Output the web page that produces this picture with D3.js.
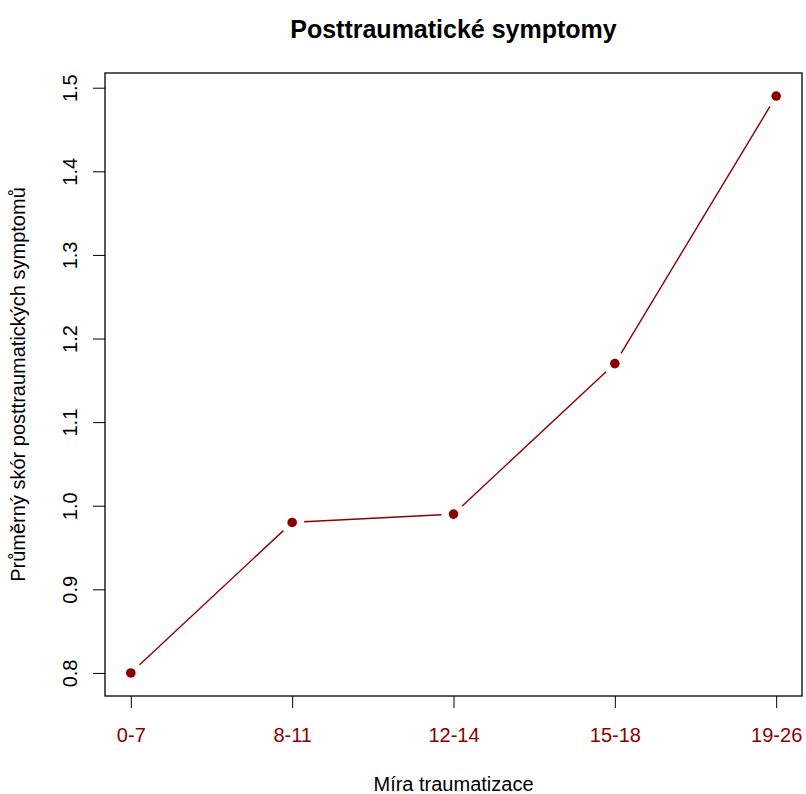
<!DOCTYPE html>
<html>
<head>
<meta charset="utf-8">
<script src="https://cdn.jsdelivr.net/npm/d3@7"></script>
<style>
  html, body { margin: 0; padding: 0; background: #fff; }
  svg { display: block; }
  svg text { font-family: "Liberation Sans", Arial, sans-serif; }
</style>
</head>
<body>
<svg id="chart" width="806" height="794"></svg>
<script>
// Mean posttraumatic symptom score by trauma level
const categories = ["0-7", "8-11", "12-14", "15-18", "19-26"];
const scores = [0.80, 0.98, 0.99, 1.17, 1.49];
const yTicks = [0.8, 0.9, 1.0, 1.1, 1.2, 1.3, 1.4, 1.5];

const plot = { left: 105, right: 802, top: 73, bottom: 696 };
const red = "#8B0000";
const font = "Liberation Sans, Arial, sans-serif";

const svg = d3.select("#chart");

// Domains padded by 4% each side, as in base R graphics
const n = categories.length;
const xPad = (n - 1) * 0.04;
const x = d3.scaleLinear().domain([1 - xPad, n + xPad]).range([plot.left, plot.right]);
const yMin = d3.min(scores), yMax = d3.max(scores);
const yPad = (yMax - yMin) * 0.04;
const y = d3.scaleLinear().domain([yMin - yPad, yMax + yPad]).range([plot.bottom, plot.top]);

const data = scores.map((v, i) => ({ i: i + 1, cat: categories[i], v }));

// Line segments with gaps around each point (type "b")
const gap = 12;
const segs = d3.pairs(data).map(([a, b]) => {
  const x1 = x(a.i), y1 = y(a.v), x2 = x(b.i), y2 = y(b.v);
  const len = Math.hypot(x2 - x1, y2 - y1);
  const ux = (x2 - x1) / len, uy = (y2 - y1) / len;
  return { x1: x1 + ux * gap, y1: y1 + uy * gap, x2: x2 - ux * gap, y2: y2 - uy * gap };
});

svg.append("g").selectAll("line").data(segs).join("line")
  .attr("x1", d => d.x1).attr("y1", d => d.y1)
  .attr("x2", d => d.x2).attr("y2", d => d.y2)
  .attr("stroke", red).attr("stroke-width", 1.4);

svg.append("g").selectAll("circle").data(data).join("circle")
  .attr("cx", d => x(d.i)).attr("cy", d => y(d.v))
  .attr("r", 4.8).attr("fill", red);

// Y axis
const yAxis = svg.append("g")
  .attr("transform", `translate(${plot.left},0)`)
  .call(d3.axisLeft(y).tickValues(yTicks).tickSize(12).tickFormat(d3.format(".1f")))
  .attr("font-family", font).attr("font-size", 20);
yAxis.select(".domain").remove();
yAxis.selectAll(".tick line").attr("stroke", "#000").attr("stroke-width", 1);
yAxis.selectAll(".tick text")
  .attr("x", null).attr("dy", null)
  .attr("transform", "translate(-28,0) rotate(-90)")
  .attr("text-anchor", "middle")
  .attr("fill", "#000");

// X axis
const xAxis = svg.append("g")
  .attr("transform", `translate(0,${plot.bottom})`)
  .call(d3.axisBottom(x).tickValues(data.map(d => d.i)).tickSize(12)
    .tickFormat(i => categories[i - 1]))
  .attr("font-family", font).attr("font-size", 20);
xAxis.select(".domain").remove();
xAxis.selectAll(".tick line").attr("stroke", "#000").attr("stroke-width", 1);
xAxis.selectAll(".tick text")
  .attr("y", 46).attr("dy", null)
  .attr("fill", red);

// Plot frame
svg.append("rect")
  .attr("x", plot.left).attr("y", plot.top)
  .attr("width", plot.right - plot.left).attr("height", plot.bottom - plot.top)
  .attr("fill", "none").attr("stroke", "#000").attr("stroke-width", 1.3);

// Titles
svg.append("text")
  .attr("x", (plot.left + plot.right) / 2).attr("y", 38)
  .attr("text-anchor", "middle").attr("font-size", 25).attr("font-weight", "bold")
  .text("Posttraumatické symptomy");

svg.append("text")
  .attr("x", (plot.left + plot.right) / 2).attr("y", 791)
  .attr("text-anchor", "middle").attr("font-size", 20)
  .text("Míra traumatizace");

svg.append("text")
  .attr("transform", `translate(25,${(plot.top + plot.bottom) / 2}) rotate(-90)`)
  .attr("text-anchor", "middle").attr("font-size", 20)
  .text("Průměrný skór posttraumatických symptomů");
</script>
</body>
</html>
